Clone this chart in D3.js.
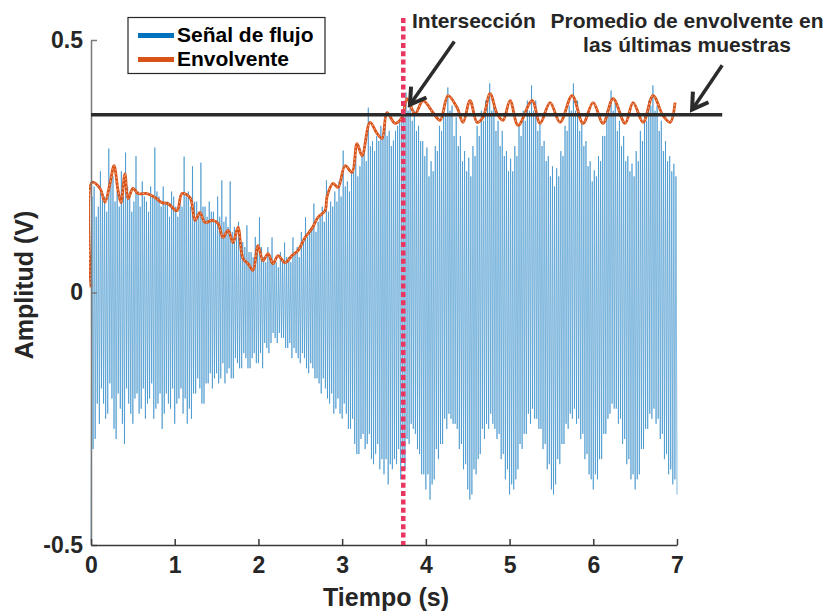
<!DOCTYPE html>
<html>
<head>
<meta charset="utf-8">
<script src="https://cdn.jsdelivr.net/npm/d3@7"></script>
<style>
  body { margin: 0; background: #fff; }
  svg { display: block; }
  text { font-family: "Liberation Sans", Arial, Helvetica, sans-serif; font-weight: bold; }
</style>
</head>
<body>
<svg id="chart" width="828" height="614"></svg>
<script>
// ---------------- data ----------------
const xTicks = [0, 1, 2, 3, 4, 5, 6, 7];
const yTicks = [-0.5, 0, 0.5];
const yTickLabels = ["-0.5", "0", "0.5"];

// flow signal (V): troughs at t = k*step, crests half a step later; one row = 0.5 s
const sampleStep = 0.025;
const flujoLo = [
  -0.49, -0.31, -0.29, -0.22, -0.26, -0.19, -0.22, -0.25, -0.24, -0.18, -0.21, -0.27, -0.29, -0.20, -0.23, -0.26, -0.30, -0.19, -0.22, -0.24,
  -0.26, -0.21, -0.20, -0.24, -0.23, -0.19, -0.25, -0.22, -0.21, -0.18, -0.25, -0.23, -0.22, -0.20, -0.27, -0.24, -0.20, -0.22, -0.23, -0.19,
  -0.26, -0.22, -0.21, -0.19, -0.24, -0.21, -0.26, -0.23, -0.25, -0.20, -0.20, -0.17, -0.19, -0.22, -0.22, -0.18, -0.18, -0.16, -0.19, -0.17,
  -0.16, -0.18, -0.17, -0.14, -0.18, -0.16, -0.15, -0.17, -0.17, -0.13, -0.14, -0.15, -0.15, -0.12, -0.13, -0.15, -0.15, -0.13, -0.12, -0.14,
  -0.14, -0.12, -0.15, -0.10, -0.11, -0.12, -0.10, -0.08, -0.09, -0.10, -0.08, -0.09, -0.09, -0.11, -0.11, -0.10, -0.13, -0.11, -0.12, -0.13,
  -0.14, -0.12, -0.13, -0.15, -0.16, -0.14, -0.15, -0.17, -0.17, -0.18, -0.20, -0.17, -0.19, -0.21, -0.22, -0.20, -0.24, -0.23, -0.21, -0.24,
  -0.25, -0.22, -0.24, -0.27, -0.27, -0.25, -0.30, -0.32, -0.32, -0.29, -0.28, -0.31, -0.30, -0.28, -0.33, -0.34, -0.32, -0.30, -0.35, -0.33,
  -0.36, -0.33, -0.38, -0.34, -0.35, -0.33, -0.34, -0.31, -0.37, -0.33, -0.35, -0.29, -0.30, -0.26, -0.27, -0.28, -0.31, -0.32, -0.36, -0.36,
  -0.39, -0.36, -0.41, -0.38, -0.37, -0.31, -0.33, -0.30, -0.30, -0.25, -0.27, -0.24, -0.25, -0.26, -0.26, -0.27, -0.31, -0.30, -0.35, -0.34,
  -0.39, -0.41, -0.40, -0.35, -0.36, -0.33, -0.32, -0.27, -0.29, -0.26, -0.27, -0.24, -0.26, -0.27, -0.29, -0.28, -0.33, -0.32, -0.37, -0.35,
  -0.40, -0.38, -0.39, -0.37, -0.35, -0.30, -0.31, -0.28, -0.28, -0.24, -0.26, -0.23, -0.25, -0.25, -0.27, -0.27, -0.31, -0.30, -0.35, -0.34,
  -0.39, -0.40, -0.38, -0.33, -0.34, -0.30, -0.30, -0.26, -0.27, -0.24, -0.25, -0.23, -0.26, -0.25, -0.29, -0.28, -0.33, -0.32, -0.36, -0.37,
  -0.39, -0.36, -0.37, -0.33, -0.33, -0.28, -0.28, -0.25, -0.24, -0.22, -0.23, -0.23, -0.26, -0.25, -0.30, -0.29, -0.34, -0.33, -0.37, -0.36,
  -0.39, -0.37, -0.36, -0.31, -0.31, -0.27, -0.27, -0.24, -0.25, -0.23, -0.26, -0.25, -0.29, -0.28, -0.33, -0.32, -0.36, -0.35, -0.38, -0.37,
  -0.40
];
const flujoHi = [
  0.19, 0.21, 0.15, 0.17, 0.24, 0.20, 0.19, 0.16, 0.285, 0.22, 0.23, 0.18, 0.20, 0.17, 0.24, 0.19, 0.277, 0.21, 0.19, 0.16,
  0.18, 0.27, 0.20, 0.17, 0.22, 0.19, 0.18, 0.16, 0.21, 0.19, 0.287, 0.20, 0.19, 0.17, 0.21, 0.18, 0.18, 0.15, 0.20, 0.19,
  0.17, 0.15, 0.19, 0.17, 0.269, 0.19, 0.20, 0.17, 0.25, 0.18, 0.18, 0.16, 0.257, 0.17, 0.17, 0.15, 0.18, 0.16, 0.16, 0.14,
  0.19, 0.15, 0.222, 0.14, 0.15, 0.13, 0.22, 0.12, 0.13, 0.11, 0.14, 0.10, 0.10, 0.09, 0.133, 0.08, 0.08, 0.07, 0.11, 0.09,
  0.149, 0.09, 0.07, 0.06, 0.09, 0.07, 0.109, 0.06, 0.06, 0.05, 0.08, 0.06, 0.099, 0.07, 0.07, 0.06, 0.109, 0.08, 0.09, 0.07,
  0.12, 0.10, 0.149, 0.11, 0.12, 0.13, 0.176, 0.12, 0.14, 0.15, 0.17, 0.14, 0.222, 0.16, 0.18, 0.17, 0.20, 0.18, 0.22, 0.19,
  0.281, 0.21, 0.22, 0.20, 0.236, 0.24, 0.27, 0.23, 0.25, 0.27, 0.29, 0.26, 0.366, 0.29, 0.30, 0.28, 0.31, 0.30, 0.33, 0.31,
  0.341, 0.31, 0.32, 0.29, 0.301, 0.32, 0.33, 0.34, 0.35, 0.37, 0.396, 0.36, 0.38, 0.34, 0.36, 0.32, 0.33, 0.30, 0.30, 0.27,
  0.287, 0.23, 0.26, 0.24, 0.29, 0.28, 0.33, 0.32, 0.37, 0.35, 0.406, 0.36, 0.37, 0.31, 0.347, 0.29, 0.31, 0.26, 0.28, 0.24,
  0.267, 0.23, 0.29, 0.27, 0.33, 0.31, 0.36, 0.34, 0.38, 0.37, 0.414, 0.36, 0.37, 0.32, 0.34, 0.29, 0.32, 0.27, 0.28, 0.24,
  0.265, 0.24, 0.29, 0.27, 0.33, 0.31, 0.36, 0.34, 0.38, 0.36, 0.41, 0.36, 0.38, 0.32, 0.34, 0.29, 0.30, 0.26, 0.27, 0.23,
  0.25, 0.21, 0.246, 0.23, 0.28, 0.27, 0.33, 0.32, 0.37, 0.36, 0.414, 0.36, 0.38, 0.32, 0.34, 0.29, 0.30, 0.25, 0.26, 0.22,
  0.242, 0.23, 0.27, 0.26, 0.31, 0.31, 0.36, 0.35, 0.40, 0.36, 0.38, 0.32, 0.34, 0.29, 0.31, 0.26, 0.27, 0.24, 0.255, 0.23,
  0.28, 0.26, 0.32, 0.30, 0.35, 0.34, 0.38, 0.37, 0.41, 0.36, 0.37, 0.32, 0.34, 0.28, 0.30, 0.26, 0.27, 0.24, 0.255, 0.23
];

// envelope (s, V)
const envT = [
  0.00, 0.01, 0.108, 0.167, 0.227, 0.275, 0.323, 0.358, 0.406, 0.442,
  0.502, 0.562, 0.669, 0.765, 0.848, 0.920, 1.027, 1.087, 1.183, 1.243,
  1.302, 1.362, 1.458, 1.517, 1.577, 1.637, 1.697, 1.756, 1.816, 1.876,
  1.935, 1.995, 2.055, 2.115, 2.174, 2.234, 2.318, 2.401, 2.473, 2.557,
  2.640, 2.712, 2.796, 2.820, 2.891, 2.951, 3.035, 3.118, 3.178, 3.238,
  3.333, 3.417, 3.477, 3.536, 3.632, 3.716, 3.775, 3.871, 3.967, 4.086,
  4.170, 4.265, 4.373, 4.444, 4.528, 4.612, 4.683, 4.767, 4.851, 4.922,
  5.006, 5.102, 5.269, 5.364, 5.484, 5.603, 5.747, 5.878, 5.998, 6.117,
  6.237, 6.380, 6.476, 6.595, 6.714, 6.834, 6.918, 6.977
];
const envV = [
  0.010, 0.218, 0.206, 0.179, 0.216, 0.251, 0.202, 0.178, 0.235, 0.186,
  0.206, 0.196, 0.196, 0.188, 0.178, 0.176, 0.162, 0.196, 0.188, 0.143,
  0.158, 0.139, 0.143, 0.137, 0.109, 0.123, 0.099, 0.129, 0.067, 0.057,
  0.044, 0.093, 0.063, 0.077, 0.057, 0.073, 0.059, 0.073, 0.083, 0.109,
  0.127, 0.149, 0.162, 0.190, 0.216, 0.208, 0.251, 0.238, 0.295, 0.271,
  0.337, 0.315, 0.305, 0.356, 0.335, 0.347, 0.384, 0.354, 0.380, 0.356,
  0.341, 0.390, 0.366, 0.337, 0.380, 0.337, 0.347, 0.394, 0.354, 0.341,
  0.380, 0.331, 0.380, 0.335, 0.376, 0.337, 0.390, 0.335, 0.376, 0.335,
  0.384, 0.335, 0.376, 0.337, 0.390, 0.350, 0.337, 0.376
];

const intersectT = 3.73;      // crossing time (s)
const promedioV = 0.352;      // mean envelope of the last samples (V)
const promedioSpan = [0, 7.54];

// annotation arrows: [tail t, tail V, tip t, tip V]
const arrows = [
  [4.34, 0.497, 3.81, 0.372],
  [7.54, 0.450, 7.18, 0.362]
];

// ---------------- drawing ----------------
const svg = d3.select("#chart");
const x = d3.scaleLinear().domain([0, 7]).range([91, 677]);
const y = d3.scaleLinear().domain([-0.5, 0.5]).range([545, 40]);

const blue = "#0072BD", orange = "#D95319", ink = "#262626";

svg.append("defs").append("clipPath").attr("id", "plotclip")
  .append("rect").attr("x", 89).attr("y", 0).attr("width", 590).attr("height", 547);

// flow signal
const flujo = [];
flujoLo.forEach((v, k) => {
  flujo.push([k * sampleStep, v]);
  if (k < flujoHi.length) flujo.push([k * sampleStep + sampleStep / 2, flujoHi[k]]);
});
const line = d3.line().x(d => x(d[0])).y(d => y(d[1]));
const plot = svg.append("g").attr("clip-path", "url(#plotclip)");
plot.append("path").datum(flujo)
  .attr("d", line)
  .attr("fill", "none").attr("stroke", blue)
  .attr("stroke-width", 1).attr("stroke-opacity", 0.24)
  .attr("stroke-linejoin", "miter");
plot.append("path").datum(flujo)
  .attr("d", line)
  .attr("fill", "none").attr("stroke", blue)
  .attr("stroke-width", 0.45).attr("stroke-opacity", 0.65)
  .attr("stroke-linejoin", "miter");

// envelope
const env = envT.map((t, i) => [t, envV[i]]);
const envLine = d3.line().x(d => x(d[0])).y(d => y(d[1])).curve(d3.curveCatmullRom.alpha(0.5));
plot.append("path").datum(env)
  .attr("d", envLine)
  .attr("fill", "none").attr("stroke", orange)
  .attr("stroke-width", 2.8).attr("stroke-linejoin", "round");
plot.append("path").datum(env)
  .attr("d", envLine)
  .attr("fill", "none").attr("stroke", "#f6cdb4")
  .attr("stroke-width", 1).attr("stroke-dasharray", "1.5 2.5").attr("stroke-opacity", 0.85);

// axes
const yAxis = d3.axisLeft(y).tickValues(yTicks)
  .tickFormat((d, i) => yTickLabels[i]).tickSizeInner(-6).tickSizeOuter(0).tickPadding(8);
const gy = svg.append("g").attr("transform", `translate(${x(0)},0)`).call(yAxis);
gy.select(".domain").attr("stroke", "#7a7a7a").attr("stroke-width", 1.5);
gy.selectAll(".tick line").attr("stroke", "#7a7a7a").attr("stroke-width", 1.5);
gy.selectAll(".tick text").attr("fill", ink).style("font-size", "23px")
  .style("font-family", '"Liberation Sans", Arial, sans-serif').style("font-weight", "bold");

const xAxis = d3.axisBottom(x).tickValues(xTicks).tickFormat(d3.format("d"))
  .tickSizeInner(-6).tickSizeOuter(0).tickPadding(12);
const gx = svg.append("g").attr("transform", `translate(0,${y(-0.5)})`).call(xAxis);
gx.select(".domain").attr("stroke", "#3a3a3a").attr("stroke-width", 1.5);
gx.selectAll(".tick line").attr("stroke", "#3a3a3a").attr("stroke-width", 1.5);
gx.selectAll(".tick text").attr("fill", ink).style("font-size", "23px")
  .style("font-family", '"Liberation Sans", Arial, sans-serif').style("font-weight", "bold");

// axis titles
svg.append("text").attr("x", 386).attr("y", 606).attr("text-anchor", "middle")
  .attr("fill", ink).style("font-size", "25px").text("Tiempo (s)");
svg.append("text").attr("transform", "translate(33,285) rotate(-90)").attr("text-anchor", "middle")
  .attr("fill", ink).style("font-size", "25px").text("Amplitud (V)");

// mean envelope level
svg.append("line")
  .attr("x1", x(promedioSpan[0])).attr("x2", x(promedioSpan[1]))
  .attr("y1", y(promedioV)).attr("y2", y(promedioV))
  .attr("stroke", "#2b2b2b").attr("stroke-width", 3.5);

// intersection marker
svg.append("line")
  .attr("x1", x(intersectT)).attr("x2", x(intersectT))
  .attr("y1", 18).attr("y2", y(-0.5))
  .attr("stroke", "#ea3560").attr("stroke-width", 4.5)
  .attr("stroke-dasharray", "5 3.3");

// arrows
arrows.forEach(a => {
  const x0 = x(a[0]), y0 = y(a[1]), x1 = x(a[2]), y1 = y(a[3]);
  const ang = Math.atan2(y0 - y1, x0 - x1);
  const L = 18, spread = 0.55;
  svg.append("line").attr("x1", x0).attr("y1", y0).attr("x2", x1).attr("y2", y1)
    .attr("stroke", "#2b2b2b").attr("stroke-width", 3.5);
  const head = [
    [x1 + L * Math.cos(ang + spread), y1 + L * Math.sin(ang + spread)],
    [x1, y1],
    [x1 + L * Math.cos(ang - spread), y1 + L * Math.sin(ang - spread)]
  ];
  svg.append("path").attr("d", d3.line()(head))
    .attr("fill", "none").attr("stroke", "#2b2b2b").attr("stroke-width", 4)
    .attr("stroke-linejoin", "miter");
});

// annotations
svg.append("text").attr("x", 412).attr("y", 28).attr("fill", ink)
  .style("font-size", "21px").text("Intersección");
svg.append("text").attr("x", 687).attr("y", 28).attr("text-anchor", "middle").attr("fill", ink)
  .style("font-size", "21px").text("Promedio de envolvente en");
svg.append("text").attr("x", 687).attr("y", 52).attr("text-anchor", "middle").attr("fill", ink)
  .style("font-size", "21px").text("las últimas muestras");

// legend
const legendItems = [["Señal de flujo", blue], ["Envolvente", orange]];
const lg = svg.append("g");
lg.append("rect").attr("x", 128).attr("y", 17.5).attr("width", 197).attr("height", 56)
  .attr("fill", "#fff").attr("stroke", ink).attr("stroke-width", 1.2);
legendItems.forEach((it, i) => {
  const yy = 35.5 + i * 24;
  lg.append("line").attr("x1", 138).attr("x2", 174).attr("y1", yy).attr("y2", yy)
    .attr("stroke", it[1]).attr("stroke-width", 5);
  lg.append("text").attr("x", 177).attr("y", yy + 6.5).attr("fill", "#000")
    .style("font-size", "21px").text(it[0]);
});
</script>
</body>
</html>
